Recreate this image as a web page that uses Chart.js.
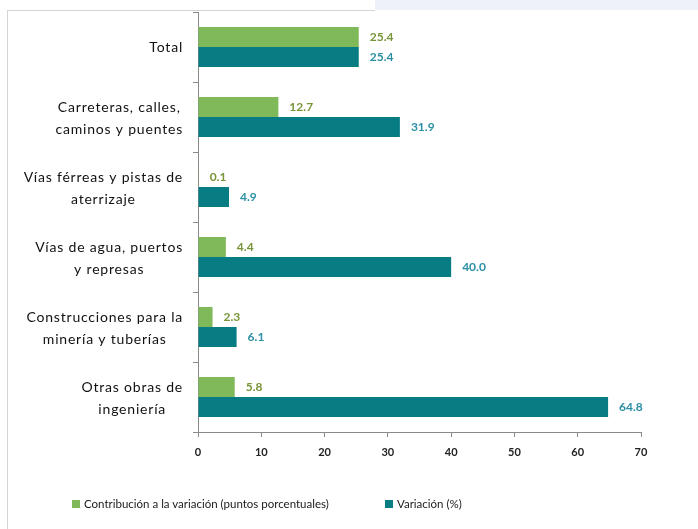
<!DOCTYPE html>
<html>
<head>
<meta charset="utf-8">
<script src="https://cdn.jsdelivr.net/npm/chart.js@4/dist/chart.umd.min.js"></script>
<style>
  html, body { margin:0; padding:0; background:#fff; }
  #wrap { position:relative; width:698px; height:529px; overflow:hidden; font-family: Lato, "Open Sans", sans-serif; }
  #band { position:absolute; left:375px; top:0; width:323px; height:10px; background:#eef1f8; }
  #topline { position:absolute; left:7px; top:10px; width:368px; height:1px; background:#d4d4d4; }
  #leftline { position:absolute; left:7px; top:10px; width:1px; height:519px; background:#d4d4d4; }
  canvas { position:absolute; left:0; top:0; }
  #legend { position:absolute; top:497px; left:0; width:698px; font-size:11.5px; color:#1a1a1a; }
  .item { position:absolute; display:flex; align-items:center; white-space:nowrap; }
  .sw { width:8px; height:8px; margin-right:4px; }
</style>
</head>
<body>
<div id="wrap">
  <div id="band"></div>
  <div id="topline"></div>
  <div id="leftline"></div>
  <canvas id="c" width="698" height="529"></canvas>
  <div id="legend"></div>
</div>
<script>
const categories = [
  ["Total"],
  ["Carreteras, calles,", "caminos y puentes"],
  ["Vías férreas y pistas de", "aterrizaje"],
  ["Vías de agua, puertos", "y represas"],
  ["Construcciones para la", "minería y tuberías"],
  ["Otras obras de", "ingeniería"]
];
const contribucion = [25.4, 12.7, 0.1, 4.4, 2.3, 5.8];
const variacion = [25.4, 31.9, 4.9, 40.0, 6.1, 64.8];
const seriesNames = ["Contribución a la variación (puntos porcentuales)", "Variación (%)"];
const xTicks = [0, 10, 20, 30, 40, 50, 60, 70];

const barColors = ["#80b95a", "#077c82"];
const labelColors = ["#779438", "#2b8fa3"];

const valueLabels = {
  id: 'valueLabels',
  afterDatasetsDraw(chart) {
    const ctx = chart.ctx;
    ctx.save();
    ctx.font = "bold 12px Lato, 'Open Sans', sans-serif";
    ctx.textAlign = 'left';
    ctx.textBaseline = 'middle';
    chart.data.datasets.forEach((ds, di) => {
      const meta = chart.getDatasetMeta(di);
      meta.data.forEach((el, i) => {
        ctx.fillStyle = labelColors[di];
        ctx.fillText(ds.data[i].toFixed(1), el.x + 11, el.y);
      });
    });
    ctx.restore();
  }
};

const yLabels = {
  id: 'yLabels',
  afterDraw(chart) {
    const ctx = chart.ctx;
    const scale = chart.scales.y;
    ctx.save();
    ctx.font = "14px Lato, 'Open Sans', sans-serif";
    try { ctx.letterSpacing = '0.8px'; } catch (e) {}
    ctx.fillStyle = '#111';
    ctx.textAlign = 'center';
    ctx.textBaseline = 'middle';
    const right = 183;
    const lh = 22;
    categories.forEach((lines, i) => {
      const yc = scale.getPixelForValue(i);
      const maxW = Math.max(...lines.map(l => ctx.measureText(l).width));
      const xc = right - maxW / 2;
      const y0 = yc - (lines.length - 1) * lh / 2 + (lines.length > 1 ? 1 : 0);
      lines.forEach((l, k) => ctx.fillText(l, xc, y0 + k * lh));
    });
    ctx.restore();
  }
};

new Chart(document.getElementById('c'), {
  type: 'bar',
  data: {
    labels: categories,
    datasets: [
      { label: seriesNames[0], data: contribucion, backgroundColor: barColors[0], categoryPercentage: 0.572, barPercentage: 1.0 },
      { label: seriesNames[1], data: variacion, backgroundColor: barColors[1], categoryPercentage: 0.572, barPercentage: 1.0 }
    ]
  },
  options: {
    indexAxis: 'y',
    responsive: false,
    animation: false,
    layout: { padding: { top: 12, right: 57, left: 0, bottom: 0 } },
    plugins: { legend: { display: false }, tooltip: { enabled: false } },
    scales: {
      x: {
        min: 0, max: 70,
        afterFit(s) { s.height = 97; },
        afterBuildTicks(s) { s.ticks = xTicks.map(v => ({ value: v })); },
        grid: { drawOnChartArea: false, drawTicks: true, tickLength: 5, color: '#8a8a8a' },
        border: { display: true, color: '#8a8a8a', width: 1 },
        ticks: { padding: 9, color: '#222', font: { family: "Lato, 'Open Sans', sans-serif", size: 11, weight: 'bold' } }
      },
      y: {
        afterFit(s) { s.width = 198; },
        grid: { drawOnChartArea: false, drawTicks: true, tickLength: 5, color: '#8a8a8a', offset: true },
        border: { display: true, color: '#8a8a8a', width: 1 },
        ticks: { display: false }
      }
    }
  },
  plugins: [valueLabels, yLabels]
});

// Legend (HTML)
const legend = document.getElementById('legend');
const legendX = [72, 385];
seriesNames.forEach((n, i) => {
  const d = document.createElement('div');
  d.className = 'item';
  d.style.left = legendX[i] + 'px';
  d.innerHTML = '<span class="sw" style="background:' + barColors[i] + '"></span><span>' + n + '</span>';
  legend.appendChild(d);
});
</script>
</body>
</html>
